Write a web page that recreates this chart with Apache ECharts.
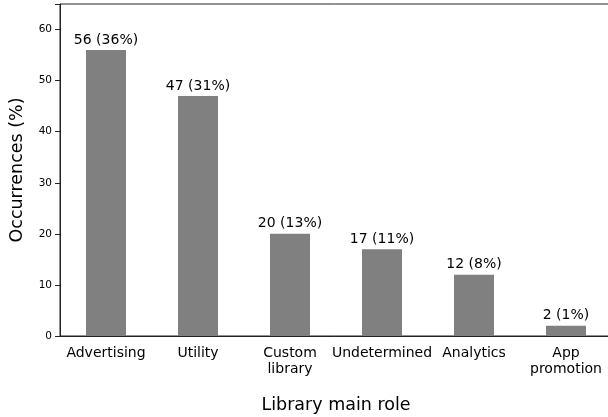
<!DOCTYPE html>
<html><head><meta charset="utf-8">
<script src="https://cdn.jsdelivr.net/npm/echarts@6/dist/echarts.min.js"></script>
<style>html,body{margin:0;padding:0;background:#fff}#c{width:608px;height:417px}</style>
</head><body><div id="c"></div>
<script>
var categories = ['Advertising', 'Utility', 'Custom\nlibrary', 'Undetermined', 'Analytics', 'App\npromotion'];
var counts = [56, 47, 20, 17, 12, 2];
var percents = [36, 31, 13, 11, 8, 1];
var yTicks = [0, 10, 20, 30, 40, 50, 60];

var chart = echarts.init(document.getElementById('c'), null, {renderer: 'canvas'});
var font = 'DejaVu Sans';
chart.setOption({
  animation: false,
  grid: {left: 60, top: 4, width: 552, height: 332, show: true, borderColor: '#222', borderWidth: 1,
    backgroundColor: 'transparent', containLabel: false, outerBoundsMode: 'none'},
  xAxis: {
    type: 'category', data: categories, boundaryGap: true,
    name: 'Library main role', nameLocation: 'middle', nameGap: 60,
    nameTextStyle: {fontFamily: font, fontSize: 17.5, color: '#000'},
    axisLine: {lineStyle: {color: '#222', width: 1}},
    axisTick: {alignWithLabel: true, length: 5, lineStyle: {color: '#222'}},
    axisLabel: {fontFamily: font, fontSize: 14, color: '#000', margin: 9, lineHeight: 16, interval: 0}
  },
  yAxis: {
    type: 'value', min: 0, max: 65, interval: 10,
    name: 'Occurrences (%)', nameLocation: 'middle', nameGap: 34,
    nameTextStyle: {fontFamily: font, fontSize: 17.5, color: '#000'},
    axisLine: {show: true, lineStyle: {color: '#222', width: 1}},
    axisTick: {show: true, length: 5, lineStyle: {color: '#222'}},
    splitLine: {show: false},
    axisLabel: {fontFamily: font, fontSize: 10.5, color: '#000', margin: 8,
      formatter: function (v) { return yTicks.indexOf(v) >= 0 ? String(v) : ''; }}
  },
  series: [{
    type: 'bar', data: counts, barWidth: 40,
    itemStyle: {color: '#808080'},
    label: {show: true, position: 'top', distance: 3, fontFamily: font, fontSize: 14, color: '#000',
      formatter: function (p) { return counts[p.dataIndex] + ' (' + percents[p.dataIndex] + '%)'; }}
  }]
});
</script></body></html>
